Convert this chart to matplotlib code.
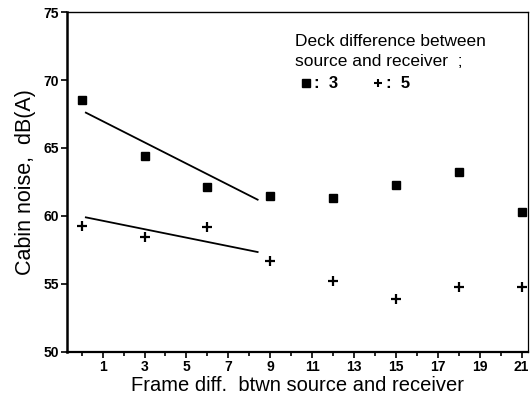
import numpy as np
import matplotlib
matplotlib.use("Agg")
import matplotlib.pyplot as plt

plt.rcParams["font.family"] = ["Liberation Sans", "DejaVu Sans"]

# data
frame_diff = [0, 3, 6, 9, 12, 15, 18, 21]
deck3 = [68.5, 64.4, 62.1, 61.5, 61.3, 62.3, 63.2, 60.3]
deck5 = [59.3, 58.45, 59.2, 56.7, 55.2, 53.9, 54.8, 54.8]

# fitted lines (endpoints)
fit_x = [0.2, 8.4]
fit3_y = [67.6, 61.2]
fit5_y = [59.9, 57.35]

xticks_major = [1, 3, 5, 7, 9, 11, 13, 15, 17, 19, 21]
xticks_minor = list(range(0, 22))
yticks = [50, 55, 60, 65, 70, 75]

fig = plt.figure(figsize=(5.3, 3.95), dpi=100)
ax = fig.add_axes([0.1264, 0.1089, 0.8696, 0.8607])

ax.plot(frame_diff, deck3, "s", color="black", markersize=5.5, clip_on=False)
ax.plot(frame_diff, deck5, "+", color="black", markersize=6.5, markeredgewidth=1.6,
        clip_on=False)
ax.plot(fit_x, fit3_y, color="black", lw=1.3)
ax.plot(fit_x, fit5_y, color="black", lw=1.3)

ax.set_xlim(-0.7, 21.3)
ax.set_ylim(50, 75)
ax.set_xticks(xticks_major)
ax.set_xticks(xticks_minor, minor=True)
ax.set_yticks(yticks)
ax.tick_params(axis="both", which="major", direction="out", length=4, width=1.2,
               labelsize=10, pad=2)
ax.tick_params(axis="x", which="minor", direction="out", length=3, width=1.2)
for lab in ax.get_xticklabels() + ax.get_yticklabels():
    lab.set_fontweight("bold")

ax.spines["left"].set_linewidth(1.8)
ax.spines["bottom"].set_linewidth(1.6)
ax.spines["top"].set_linewidth(1.0)
ax.spines["right"].set_linewidth(0.9)

ax.set_xlabel("Frame diff.  btwn source and receiver", fontsize=14.5, labelpad=1)
ax.set_ylabel("Cabin noise,  dB(A)", fontsize=15.5, labelpad=5)

# legend-like annotation
ax.text(0.495, 0.912, "Deck difference between", transform=ax.transAxes,
        fontsize=12.5, va="center", ha="left")
ax.text(0.495, 0.853, "source and receiver  ;", transform=ax.transAxes,
        fontsize=12.5, va="center", ha="left")
ax.plot([0.518], [0.791], "s", color="black", markersize=5.5, transform=ax.transAxes)
ax.text(0.535, 0.791, ":  3", transform=ax.transAxes, fontsize=12, va="center",
        ha="left", fontweight="bold")
ax.plot([0.675], [0.791], "+", color="black", markersize=5.5, markeredgewidth=1.5,
        transform=ax.transAxes)
ax.text(0.692, 0.791, ":  5", transform=ax.transAxes, fontsize=12, va="center",
        ha="left", fontweight="bold")

fig.savefig("out.png", dpi=100)
